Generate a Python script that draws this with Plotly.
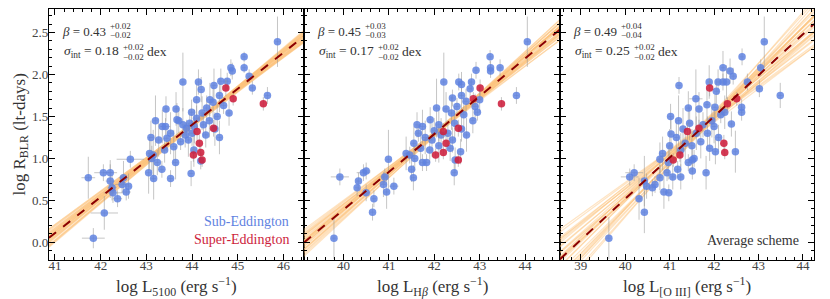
import plotly.graph_objects as go

# ---------------- data ----------------
# Panel 1: L5100
p1_sub_x = [41.84, 41.73, 42.06, 42.21, 42.21, 42.08, 42.37, 42.25, 42.27, 42.47, 42.50, 42.61, 42.56, 42.65,
            43.05, 43.16, 43.34, 43.24, 43.07, 43.12, 43.15, 43.53, 43.64, 43.98, 44.04, 44.19,
            43.27, 43.45, 43.53, 43.60, 43.40, 43.35, 43.42, 43.67, 43.71, 43.80, 43.88, 43.95, 44.05, 43.85,
            43.92, 44.00, 43.75, 44.30, 44.25, 44.38, 44.22, 44.32, 44.39, 43.43, 43.65, 43.99, 44.46, 44.55,
            44.60, 44.69, 44.81, 43.80, 44.14, 44.48, 44.63, 44.77, 44.85, 44.88, 45.14, 45.14, 45.25, 45.32,
            45.65, 45.87, 44.10, 44.20, 44.50, 44.60, 44.10, 43.20, 43.10]
p1_sub_y = [0.05, 0.77, 0.83, 0.83, 0.73, 0.35, 0.52, 0.65, 0.59, 0.69, 0.77, 0.67, 0.60, 0.99,
            0.83, 0.76, 0.87, 0.95, 1.06, 1.00, 1.04, 0.76, 0.95, 0.82, 1.10, 0.97,
            1.22, 1.24, 1.30, 1.14, 1.10, 1.38, 1.38, 1.46, 1.45, 1.40, 1.36, 1.42, 1.38, 1.28,
            1.22, 1.30, 1.20, 1.28, 1.40, 1.45, 1.54, 1.60, 1.70, 1.59, 1.59, 1.55, 1.67, 1.50,
            1.75, 1.63, 1.54, 1.91, 1.91, 1.87, 1.92, 1.92, 2.08, 2.04, 2.21, 2.08, 1.98, 1.84,
            1.75, 2.39, 1.70, 1.82, 1.35, 1.25, 1.48, 1.45, 1.25]
p1_sub_ex = [0.25, 0.15, 0.20, 0.15, 0.10, 0.30, 0.10, 0.10, 0.20, 0.15, 0.10, 0.05, 0.10, 0.30,
             0.05, 0.05, 0.05, 0.05, 0.05, 0.05, 0.05, 0.05, 0.05, 0.05, 0.05, 0.05,
             0.05, 0.05, 0.05, 0.05, 0.05, 0.05, 0.10, 0.05, 0.05, 0.05, 0.05, 0.05, 0.05, 0.05,
             0.05, 0.05, 0.05, 0.05, 0.05, 0.05, 0.05, 0.05, 0.05, 0.05, 0.05, 0.05, 0.05, 0.05,
             0.05, 0.05, 0.05, 0.05, 0.05, 0.05, 0.05, 0.05, 0.05, 0.05, 0.05, 0.05, 0.05, 0.05,
             0.05, 0.05, 0.05, 0.05, 0.05, 0.05, 0.05, 0.05, 0.05]
p1_sub_ey = [0.12, 0.25, 0.10, 0.15, 0.20, 0.20, 0.10, 0.15, 0.12, 0.10, 0.20, 0.15, 0.10, 0.10,
             0.25, 0.25, 0.10, 0.15, 0.20, 0.15, 0.30, 0.10, 0.20, 0.15, 0.20, 0.10,
             0.20, 0.15, 0.25, 0.20, 0.15, 0.20, 0.10, 0.20, 0.15, 0.20, 0.10, 0.15, 0.20, 0.15,
             0.20, 0.15, 0.10, 0.15, 0.15, 0.20, 0.20, 0.15, 0.20, 0.15, 0.20, 0.15, 0.20, 0.15,
             0.20, 0.10, 0.15, 0.35, 0.15, 0.20, 0.15, 0.10, 0.10, 0.10, 0.06, 0.06, 0.08, 0.08,
             0.10, 0.30, 0.20, 0.15, 0.20, 0.20, 0.15, 0.30, 0.20]
p1_sup_x = [44.74, 44.90, 45.56, 44.47, 44.11, 44.16, 44.19, 44.03, 44.22]
p1_sup_y = [1.84, 1.71, 1.65, 1.36, 1.32, 1.18, 1.07, 1.04, 0.98]
p1_sup_ey = [0.10, 0.08, 0.08, 0.10, 0.10, 0.10, 0.08, 0.08, 0.08]

# Panel 2: L_Hbeta
p2_sub_x = [39.79, 39.92, 40.44, 40.50, 40.33, 40.30, 40.50, 40.67, 40.64, 40.91, 40.88, 40.95, 41.11, 40.99,
            41.38, 41.46, 41.50, 41.54, 41.57, 41.74, 41.83, 42.44, 42.46, 42.58,
            41.74, 41.91, 42.26, 42.38, 42.71, 42.21, 42.54, 42.82, 42.79, 42.92, 43.23, 43.24, 43.24, 43.45,
            43.81, 44.05, 42.60, 42.70, 42.90, 42.95, 42.85, 42.65, 42.45, 42.10, 42.00, 42.15, 42.30, 42.40,
            41.95, 41.80, 41.65, 41.55, 41.70, 41.90, 42.10, 42.35, 42.60, 42.50, 42.05, 42.60, 43.00, 42.40,
            41.62]
p2_sub_y = [0.05, 0.78, 0.83, 0.85, 0.73, 0.65, 0.59, 0.52, 0.36, 0.78, 0.69, 0.60, 0.67, 0.99,
            1.06, 1.04, 0.87, 0.77, 1.00, 0.95, 0.95, 0.83, 0.98, 1.08,
            1.38, 1.46, 1.59, 1.54, 1.28, 1.91, 1.91, 1.91, 1.83, 2.05, 2.21, 2.08, 2.04, 2.08,
            1.75, 2.39, 1.75, 1.68, 1.62, 1.55, 1.45, 1.52, 1.42, 1.40, 1.33, 1.28, 1.30, 1.22,
            1.22, 1.25, 1.30, 1.18, 1.12, 1.10, 1.15, 1.12, 1.35, 1.62, 1.60, 1.88, 1.70, 1.72,
            1.40]
p2_sub_ex = [0.05, 0.20, 0.15, 0.10, 0.05, 0.05, 0.10, 0.05, 0.05, 0.10, 0.05, 0.05, 0.10, 0.05,
             0.05, 0.05, 0.05, 0.05, 0.05, 0.05, 0.05, 0.05, 0.05, 0.05,
             0.05, 0.05, 0.05, 0.05, 0.05, 0.05, 0.05, 0.05, 0.05, 0.05, 0.05, 0.05, 0.05, 0.05,
             0.05, 0.05, 0.05, 0.05, 0.05, 0.05, 0.05, 0.05, 0.05, 0.05, 0.05, 0.05, 0.05, 0.05,
             0.05, 0.05, 0.05, 0.05, 0.05, 0.05, 0.05, 0.05, 0.05, 0.05, 0.05, 0.05, 0.05, 0.05,
             0.05]
p2_sub_ey = [0.25, 0.10, 0.10, 0.10, 0.10, 0.10, 0.10, 0.10, 0.10, 0.10, 0.15, 0.20, 0.10, 0.35,
             0.20, 0.10, 0.15, 0.15, 0.15, 0.10, 0.10, 0.15, 0.15, 0.15,
             0.20, 0.15, 0.20, 0.20, 0.20, 0.35, 0.10, 0.10, 0.10, 0.10, 0.08, 0.08, 0.08, 0.10,
             0.10, 0.30, 0.20, 0.15, 0.15, 0.10, 0.15, 0.20, 0.20, 0.20, 0.15, 0.20, 0.15, 0.15,
             0.20, 0.20, 0.10, 0.20, 0.20, 0.15, 0.20, 0.15, 0.15, 0.10, 0.35, 0.15, 0.15, 0.10,
             0.15]
p2_sup_x = [43.01, 42.86, 43.48, 42.53, 42.20, 42.26, 42.20, 42.03, 42.53]
p2_sup_y = [1.84, 1.71, 1.65, 1.36, 1.32, 1.18, 1.07, 1.04, 0.98]
p2_sup_ey = [0.10, 0.08, 0.08, 0.10, 0.10, 0.10, 0.08, 0.08, 0.08]

# Panel 3: L_[OIII]
p3_sub_x = [39.63, 40.10, 40.20, 40.43, 40.31, 40.43, 40.48, 40.61, 40.67, 40.78, 40.87, 40.98, 40.94, 41.07,
            41.25, 41.18, 40.97, 40.84, 40.78, 41.42, 41.51, 41.55, 41.51, 41.82, 42.03, 42.48,
            43.13, 42.63, 42.20, 42.36, 42.43, 43.05, 43.02, 43.49, 42.75, 41.21, 41.89, 42.09, 42.20, 42.28,
            41.59, 41.42, 41.66, 41.84, 42.02, 42.24, 42.62, 42.62, 41.02, 41.03, 42.39, 42.05, 41.95, 41.75,
            41.85, 41.60, 41.45, 41.30, 41.20, 41.15, 41.35, 41.50, 41.70, 41.90, 42.10, 41.25, 41.00, 42.00,
            42.15]
p3_sub_y = [0.05, 0.78, 0.83, 0.73, 0.52, 0.36, 0.67, 0.65, 0.69, 0.77, 0.60, 0.59, 0.83, 0.78,
            0.78, 0.87, 0.95, 1.06, 0.99, 0.95, 0.98, 1.00, 0.85, 0.83, 1.08, 1.08,
            2.39, 2.21, 2.08, 2.04, 1.98, 2.08, 1.83, 1.75, 1.91, 1.87, 1.91, 1.91, 1.91, 1.91,
            1.71, 1.60, 1.59, 1.64, 1.61, 1.55, 1.61, 1.55, 1.50, 1.29, 1.41, 1.80, 1.45, 1.40,
            1.30, 1.30, 1.42, 1.35, 1.45, 1.25, 1.18, 1.15, 1.20, 1.12, 1.25, 1.10, 1.15, 1.38,
            1.52]
p3_sub_ex = [0.05, 0.20, 0.20, 0.05, 0.05, 0.05, 0.05, 0.05, 0.05, 0.05, 0.10, 0.05, 0.05, 0.05,
             0.05, 0.05, 0.05, 0.05, 0.05, 0.05, 0.05, 0.05, 0.05, 0.05, 0.05, 0.05,
             0.05, 0.05, 0.05, 0.05, 0.05, 0.05, 0.05, 0.05, 0.05, 0.05, 0.05, 0.05, 0.05, 0.05,
             0.15, 0.05, 0.05, 0.05, 0.05, 0.05, 0.05, 0.05, 0.05, 0.05, 0.05, 0.05, 0.05, 0.05,
             0.05, 0.05, 0.05, 0.05, 0.05, 0.05, 0.05, 0.05, 0.05, 0.05, 0.05, 0.05, 0.05, 0.05,
             0.05]
p3_sub_ey = [0.25, 0.10, 0.10, 0.30, 0.25, 0.25, 0.15, 0.10, 0.10, 0.15, 0.20, 0.10, 0.10, 0.15,
             0.15, 0.10, 0.20, 0.20, 0.20, 0.10, 0.15, 0.10, 0.10, 0.20, 0.15, 0.25,
             0.30, 0.10, 0.20, 0.15, 0.10, 0.10, 0.10, 0.15, 0.10, 0.10, 0.20, 0.15, 0.10, 0.20,
             0.35, 0.20, 0.20, 0.20, 0.15, 0.20, 0.10, 0.10, 0.15, 0.20, 0.15, 0.15, 0.20, 0.15,
             0.20, 0.20, 0.20, 0.25, 0.30, 0.20, 0.20, 0.20, 0.20, 0.15, 0.15, 0.20, 0.20, 0.20,
             0.10]
p3_sup_x = [41.90, 42.51, 42.30, 41.66, 41.40, 42.22, 42.24, 41.23, 41.08]
p3_sup_y = [1.84, 1.71, 1.65, 1.36, 1.32, 1.18, 1.07, 1.04, 0.98]
p3_sup_ey = [0.10, 0.08, 0.08, 0.10, 0.10, 0.10, 0.08, 0.08, 0.08]

# Best fits (slope, intercept at pivot) and posterior samples
fit_beta = [0.43, 0.45, 0.49]
fit_K = [1.40, 1.38, 1.353]
fit_pivot = [44.0, 42.2, 41.7]
s1_beta = [0.43, 0.41, 0.45, 0.42, 0.44, 0.40, 0.46, 0.43, 0.41, 0.45, 0.42, 0.44, 0.43, 0.40, 0.46, 0.42, 0.44, 0.41, 0.45, 0.43,
           0.42, 0.44, 0.41, 0.45, 0.43, 0.42, 0.44, 0.40, 0.46, 0.43]
s1_K = [1.40, 1.38, 1.41, 1.42, 1.39, 1.40, 1.39, 1.37, 1.42, 1.40, 1.41, 1.38, 1.43, 1.41, 1.38, 1.39, 1.42, 1.40, 1.37, 1.41,
        1.39, 1.41, 1.40, 1.38, 1.42, 1.37, 1.40, 1.41, 1.40, 1.39]
s2_beta = [0.45, 0.41, 0.49, 0.43, 0.47, 0.40, 0.50, 0.44, 0.42, 0.48, 0.46, 0.44, 0.45, 0.41, 0.49, 0.43, 0.47, 0.42, 0.48, 0.46,
           0.44, 0.46, 0.43, 0.47, 0.45, 0.42, 0.48, 0.44, 0.46, 0.45]
s2_K = [1.38, 1.36, 1.39, 1.40, 1.37, 1.38, 1.37, 1.35, 1.40, 1.38, 1.39, 1.36, 1.41, 1.39, 1.36, 1.37, 1.40, 1.38, 1.35, 1.39,
        1.37, 1.39, 1.38, 1.36, 1.40, 1.37, 1.39, 1.38, 1.36, 1.40]
s3_beta = [0.49, 0.40, 0.58, 0.44, 0.54, 0.38, 0.61, 0.47, 0.43, 0.56, 0.51, 0.45, 0.50, 0.39, 0.59, 0.48, 0.53, 0.42, 0.55, 0.50,
           0.46, 0.52, 0.44, 0.57, 0.49, 0.41, 0.54, 0.47, 0.52, 0.45]
s3_K = [1.35, 1.31, 1.38, 1.39, 1.32, 1.36, 1.34, 1.30, 1.40, 1.35, 1.38, 1.31, 1.41, 1.36, 1.32, 1.34, 1.39, 1.35, 1.30, 1.37,
        1.33, 1.37, 1.35, 1.32, 1.39, 1.36, 1.33, 1.38, 1.31, 1.37]

beta_txt = ["0.43", "0.45", "0.49"]
beta_up = ["+0.02", "+0.03", "+0.04"]
beta_lo = ["\u22120.02", "\u22120.03", "\u22120.04"]
sig_txt = ["0.18", "0.17", "0.25"]
sig_up = ["+0.02", "+0.02", "+0.02"]
sig_lo = ["\u22120.02", "\u22120.02", "\u22120.02"]
x_titles = ["log L<sub>5100</sub> (erg s<sup>\u22121</sup>)",
            "log L<sub>H<i>\u03b2</i></sub> (erg s<sup>\u22121</sup>)",
            "log L<sub>[O III]</sub> (erg s<sup>\u22121</sup>)"]
x_ranges = [[40.87, 46.45], [39.13, 44.77], [38.53, 44.25]]
y_range = [-0.21, 2.78]

# ---------------- figure ----------------
W, H = 830, 299
L, R, T, B = 49, 814, 9, 260
FONT = "Liberation Serif"
BLUE = "rgba(95,130,225,0.85)"
RED = "rgba(205,30,60,0.88)"
ERR = "rgba(150,150,150,0.55)"

panels = [
    dict(sx=p1_sub_x, sy=p1_sub_y, sex=p1_sub_ex, sey=p1_sub_ey, rx=p1_sup_x, ry=p1_sup_y, rey=p1_sup_ey, sb=s1_beta, sk=s1_K),
    dict(sx=p2_sub_x, sy=p2_sub_y, sex=p2_sub_ex, sey=p2_sub_ey, rx=p2_sup_x, ry=p2_sup_y, rey=p2_sup_ey, sb=s2_beta, sk=s2_K),
    dict(sx=p3_sub_x, sy=p3_sub_y, sex=p3_sub_ex, sey=p3_sub_ey, rx=p3_sup_x, ry=p3_sup_y, rey=p3_sup_ey, sb=s3_beta, sk=s3_K),
]

fig = go.Figure()
edges = [49, 304, 560, 814]

def pxx(px):
    return (px - L) / (R - L)

def pxy(py):
    return (B - py) / (B - T)

for i, p in enumerate(panels):
    xa = "x" if i == 0 else f"x{i+1}"
    ya = "y" if i == 0 else f"y{i+1}"
    xr = x_ranges[i]
    xs, ys = [], []
    for b, k in zip(p["sb"], p["sk"]):
        for xv in xr:
            xs.append(xv)
            ys.append(k + b * (xv - fit_pivot[i]))
        xs.append(None)
        ys.append(None)
    fig.add_trace(go.Scatter(x=xs, y=ys, mode="lines", xaxis=xa, yaxis=ya,
                             line=dict(color="rgba(253,196,125,0.45)", width=1.2),
                             hoverinfo="skip", showlegend=False))
    fig.add_trace(go.Scatter(x=p["sx"], y=p["sy"], mode="markers", xaxis=xa, yaxis=ya,
                             marker=dict(size=7.5, color=BLUE, line=dict(width=0)),
                             error_x=dict(type="data", array=p["sex"], color=ERR, thickness=1, width=0),
                             error_y=dict(type="data", array=p["sey"], color=ERR, thickness=1, width=0),
                             showlegend=False))
    fig.add_trace(go.Scatter(x=p["rx"], y=p["ry"], mode="markers", xaxis=xa, yaxis=ya,
                             marker=dict(size=7.5, color=RED, line=dict(width=0)),
                             error_y=dict(type="data", array=p["rey"], color=ERR, thickness=1, width=0),
                             showlegend=False))
    fig.add_trace(go.Scatter(x=xr, y=[fit_K[i] + fit_beta[i] * (xv - fit_pivot[i]) for xv in xr],
                             mode="lines", xaxis=xa, yaxis=ya,
                             line=dict(color="#8b0000", width=2, dash="dash"),
                             hoverinfo="skip", showlegend=False))

    xkey = "xaxis" if i == 0 else f"xaxis{i+1}"
    ykey = "yaxis" if i == 0 else f"yaxis{i+1}"
    fig.layout[xkey] = dict(
        domain=[pxx(edges[i]), pxx(edges[i + 1])], range=xr, anchor=ya,
        dtick=1, tick0=0, ticks="inside", ticklen=6, tickwidth=1.2, tickcolor="black",
        mirror="allticks", showline=True, linecolor="black", linewidth=1.4,
        showgrid=False, zeroline=False, ticklabelstandoff=-7,
        minor=dict(dtick=0.2, tick0=0, ticks="inside", ticklen=3, tickwidth=1, tickcolor="black", showgrid=False),
        tickfont=dict(family=FONT, size=13, color="#444"),
    )
    fig.layout[ykey] = dict(
        domain=[0, 1], range=y_range, anchor=xa,
        dtick=0.5, tick0=0, ticks="inside", ticklen=6, tickwidth=1.2, tickcolor="black",
        mirror="allticks", showline=True, linecolor="black", linewidth=1.4,
        showgrid=False, zeroline=False, tickformat=".1f", showticklabels=(i == 0),
        ticklabelstandoff=-3,
        minor=dict(dtick=0.1, tick0=0, ticks="inside", ticklen=3, tickwidth=1, tickcolor="black", showgrid=False),
        tickfont=dict(family=FONT, size=13, color="#444"),
    )

    left = edges[i]
    ann_c = "#333"
    fig.add_annotation(x=pxx(left + 59), y=pxy(31.5), xref="paper", yref="paper", xanchor="right", yanchor="middle",
                       text=f"<i>\u03b2</i> = {beta_txt[i]}", showarrow=False, font=dict(family=FONT, size=13, color=ann_c))
    fig.add_annotation(x=pxx(left + 59), y=pxy(26), xref="paper", yref="paper", xanchor="left", yanchor="middle",
                       text=beta_up[i], showarrow=False, font=dict(family=FONT, size=9, color=ann_c))
    fig.add_annotation(x=pxx(left + 59), y=pxy(35), xref="paper", yref="paper", xanchor="left", yanchor="middle",
                       text=beta_lo[i], showarrow=False, font=dict(family=FONT, size=9, color=ann_c))
    fig.add_annotation(x=pxx(left + 72), y=pxy(51.5), xref="paper", yref="paper", xanchor="right", yanchor="middle",
                       text=f"<i>\u03c3</i><sub>int</sub> = {sig_txt[i]}", showarrow=False, font=dict(family=FONT, size=13.5, color=ann_c))
    fig.add_annotation(x=pxx(left + 72), y=pxy(47.5), xref="paper", yref="paper", xanchor="left", yanchor="middle",
                       text=sig_up[i], showarrow=False, font=dict(family=FONT, size=9, color=ann_c))
    fig.add_annotation(x=pxx(left + 72), y=pxy(56.5), xref="paper", yref="paper", xanchor="left", yanchor="middle",
                       text=sig_lo[i], showarrow=False, font=dict(family=FONT, size=9, color=ann_c))
    fig.add_annotation(x=pxx(left + 96), y=pxy(51.5), xref="paper", yref="paper", xanchor="left", yanchor="middle",
                       text="dex", showarrow=False, font=dict(family=FONT, size=13.5, color=ann_c))
    fig.add_annotation(x=pxx((edges[i] + edges[i + 1]) / 2), y=pxy(286), xref="paper", yref="paper",
                       xanchor="center", yanchor="middle", text=x_titles[i], showarrow=False,
                       font=dict(family=FONT, size=17, color="#333"))

fig.add_annotation(x=pxx(20), y=pxy(134.5), xref="paper", yref="paper", xanchor="center", yanchor="middle",
                   text="log R<sub>BLR</sub> (lt-days)", textangle=-90, showarrow=False,
                   font=dict(family=FONT, size=17, color="#333"))
fig.add_annotation(x=pxx(291), y=pxy(221.5), xref="paper", yref="paper", xanchor="right", yanchor="middle",
                   text="Sub-Eddington", showarrow=False, font=dict(family=FONT, size=14, color="rgb(95,130,225)"))
fig.add_annotation(x=pxx(291), y=pxy(239.5), xref="paper", yref="paper", xanchor="right", yanchor="middle",
                   text="Super-Eddington", showarrow=False, font=dict(family=FONT, size=14, color="rgb(205,30,60)"))
fig.add_annotation(x=pxx(801), y=pxy(240), xref="paper", yref="paper", xanchor="right", yanchor="middle",
                   text="Average scheme", showarrow=False, font=dict(family=FONT, size=14, color="#333"))

fig.update_layout(width=W, height=H, margin=dict(l=L, r=W - R, t=T, b=H - B),
                  paper_bgcolor="white", plot_bgcolor="white", showlegend=False)

fig.write_html("out.html", config={"displayModeBar": False},
               post_script="document.body.style.margin='0';document.body.style.padding='0';")
